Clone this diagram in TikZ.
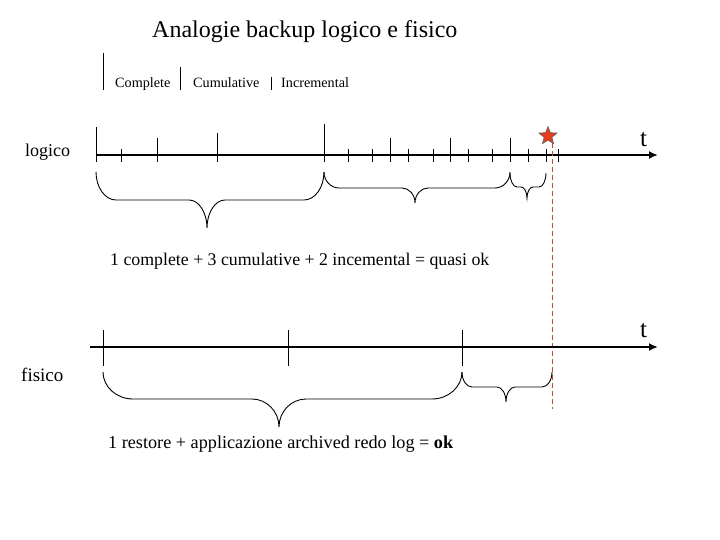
\documentclass[tikz,border=0pt]{standalone}
\usepackage{fontspec}
\setmainfont{Liberation Serif}
\usetikzlibrary{shapes.geometric,arrows.meta}
\definecolor{starred}{RGB}{230,60,30}
\definecolor{dashred}{RGB}{200,70,55}
\newcommand\cbrace[8]{%
\draw[bracestyle] (#1,#3) .. controls (#1,{#3+0.55*(#4-#3)}) and ({#1+0.45*#7},#4) .. ({#1+#7},#4)
 -- ({#5-#8},#4) .. controls ({#5-0.45*#8},#4) and (#5,{#4+0.45*(#6-#4)}) .. (#5,#6)
 .. controls (#5,{#4+0.45*(#6-#4)}) and ({#5+0.45*#8},#4) .. ({#5+#8},#4)
 -- ({#2-#7},#4) .. controls ({#2-0.45*#7},#4) and (#2,{#3+0.55*(#4-#3)}) .. (#2,#3);}
\begin{document}
\begin{tikzpicture}[x=1pt,y=-1pt,
  axis/.style={line width=2.8pt,-{Latex[length=9pt,width=8pt]}},
  tick/.style={line width=0.9pt},
  bracestyle/.style={line width=0.9pt},
  lbl/.style={inner sep=0pt,anchor=base west},
]
\useasboundingbox (0,0) rectangle (720,540);
% title
\node[lbl,font=\fontsize{24}{28}\selectfont] (title) at (152,38) {Analogie backup logico e fisico};
% legend
\draw[tick] (103,53) -- (103,90);
\draw[tick] (180,67) -- (180,90);
\draw[tick] (271,77) -- (271,90);
\node[lbl,font=\fontsize{14.2}{16}\selectfont] (lc) at (115,88) {Complete};
\node[lbl,font=\fontsize{14.2}{16}\selectfont] (lm) at (193,88) {Cumulative};
\node[lbl,font=\fontsize{14.2}{16}\selectfont] (li) at (281,88) {Incremental};
% logico axis
\coordinate (la) at (96,155);
\coordinate (lb) at (658,155);
\draw[axis] (la) -- (lb);
\node[lbl,font=\fontsize{18}{20}\selectfont] (logico) at (25,157) {logico};
\node[lbl,font=\fontsize{25}{28}\selectfont] (t1) at (640,147) {t};
\foreach \x/\y in {96/127,121/149,157/138,217/133,324/124,348/149,372/149,390/138,408/149,433/149,450/138,468/149,492/149,510/138,528/149,546/149,558/149}
  \draw[tick] (\x,\y) -- (\x,162);
\cbrace{96}{324}{172}{200}{207}{228}{20}{18}
\cbrace{324}{510}{172}{188}{415}{203}{15}{13}
\cbrace{510}{546}{173}{187}{527}{198}{7}{6}
\node[lbl,font=\fontsize{17.8}{20}\selectfont] (txt1) at (110,265) {1 complete + 3 cumulative + 2 incemental = quasi ok};
% star and dashed line
\node[star,star points=5,star point ratio=2.3,fill=starred,draw=black!60,line width=0.6pt,minimum size=19pt,inner sep=0pt] (star) at (548,136) {};
\coordinate (dtop) at (552,143);
\coordinate (dbot) at (552,409);
\draw[dashred,line width=0.9pt,dash pattern=on 5pt off 3pt] (dtop) -- (dbot);
% fisico axis
\coordinate (fa) at (90,347);
\coordinate (fb) at (658,347);
\draw[axis] (fa) -- (fb);
\node[lbl,font=\fontsize{19}{21}\selectfont] (fisico) at (21,381) {fisico};
\node[lbl,font=\fontsize{25}{28}\selectfont] (t2) at (640,337) {t};
\foreach \x in {103,288,462}
  \draw[tick] (\x,330) -- (\x,366);
\cbrace{103}{462}{372}{399}{279}{427}{30}{27}
\cbrace{462}{552}{372}{387}{506}{402}{10}{9}
\node[lbl,font=\fontsize{18.2}{20}\selectfont] (txt2) at (108,448) {1 restore + applicazione archived redo log = \textbf{ok}};
\end{tikzpicture}
\end{document}
